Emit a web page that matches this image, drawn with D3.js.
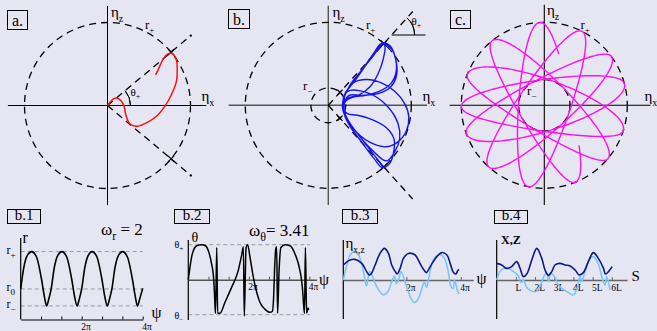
<!DOCTYPE html>
<html>
<head>
<meta charset="utf-8">
<script src="https://cdn.jsdelivr.net/npm/d3@7"></script>
<style>
  html, body { margin: 0; padding: 0; background: #e6e5f2; }
  svg { display: block; }
  text { font-family: "Liberation Serif", "Times New Roman", serif; fill: #000; }
</style>
</head>
<body>
<svg id="fig" width="657" height="331"></svg>
<script>
// ---------- data ----------
// (a) bounded orbit in the (eta_x, eta_z) plane, lengths in units of r+
const thetaPlusA = 40;                 // degrees
const orbitA = [[0,0],[0.04,0.05],[0.07,0.08],[0.11,0.09],[0.16,0.06],[0.2,-0.01],[0.22,-0.11],
  [0.26,-0.21],[0.3,-0.24],[0.36,-0.25],[0.47,-0.21],[0.59,-0.13],[0.69,-0.01],[0.77,0.13],
  [0.83,0.29],[0.84,0.43],[0.83,0.55],[0.79,0.62],[0.75,0.63],[0.7,0.6],[0.65,0.52],[0.61,0.43],[0.58,0.37]];

// (b) quasi-periodic orbit between r- and r+ inside the cone theta+
const thetaPlusB = 48;
const rMinusB = 0.21;
const orbitB = [
  [0.2,0.15],[0.3,0.27],[0.45,0.48],[0.58,0.66],[0.65,0.75],[0.74,0.72],[0.8,0.6],[0.82,0.42],
  [0.76,0.27],[0.62,0.17],[0.45,0.12],[0.3,0.1],[0.21,0.05],[0.18,-0.02],[0.19,-0.1],
  [0.26,-0.25],[0.4,-0.44],[0.55,-0.64],[0.65,-0.75],[0.74,-0.7],[0.79,-0.55],[0.79,-0.4],
  [0.7,-0.27],[0.52,-0.17],[0.35,-0.12],[0.23,-0.1],[0.18,-0.04],[0.18,0.06],[0.21,0.15],
  [0.3,0.27],[0.46,0.31],[0.64,0.27],[0.8,0.17],[0.92,0.02],[0.97,-0.14],[0.94,-0.31],[0.84,-0.44],
  [0.69,-0.5],[0.53,-0.46],[0.39,-0.37],[0.27,-0.25],[0.2,-0.13],[0.17,-0.02],[0.19,0.1],
  [0.28,0.26],[0.42,0.45],[0.55,0.63],[0.63,0.74],[0.68,0.72],[0.66,0.55],[0.6,0.38],[0.5,0.22],
  [0.36,0.12],[0.22,0.08],[0.18,0],[0.19,0.12],[0.26,0.18],[0.5,0.14],[0.72,-0.02],[0.84,-0.22],
  [0.86,-0.4],[0.8,-0.56],[0.7,-0.67],[0.54,-0.55],[0.36,-0.35],[0.24,-0.18],[0.19,-0.06],
  [0.19,0.08],[0.26,0.24],[0.4,0.42],[0.53,0.58],[0.62,0.7],[0.66,0.74],[0.76,0.68],[0.82,0.52],
  [0.82,0.35],[0.75,0.22],[0.6,0.14],[0.4,0.12],[0.25,0.12],[0.2,0.05],[0.19,-0.06],[0.22,-0.18],
  [0.32,-0.3],[0.46,-0.48],[0.6,-0.66],[0.66,-0.74]
];

// (c) rosette: successive apocentre directions (deg), inner turning radius r-
const rMinusC = 0.31;
const rosetteApses = [287, 93, 259, 63, 228, 36, 200, 15, 181, 342, 158, 320, 129, 292, 98];
const rosetteEnds = [0.7, 0.3];        // fraction of the first / last half-orbit drawn

// (b.1) r(psi), psi in units of pi
const omegaR = 2;
const rLevels = [["r","+",1],["r","0",0.45],["r","\u2212",0.2]];
const rPsi = [[0,0.45],[0.1,0.76],[0.2,0.93],[0.36,1],[0.52,0.92],[0.68,0.6],[0.78,0.33],[0.85,0.2],[0.92,0.3],
  [1,0.45],[1.1,0.76],[1.2,0.93],[1.35,1],[1.51,0.92],[1.67,0.6],[1.77,0.33],[1.85,0.2],[1.92,0.3],
  [2,0.45],[2.1,0.76],[2.2,0.93],[2.34,1],[2.5,0.92],[2.66,0.6],[2.76,0.33],[2.84,0.2],[2.91,0.3],
  [2.99,0.45],[3.09,0.76],[3.19,0.93],[3.34,1],[3.5,0.92],[3.66,0.6],[3.76,0.33],[3.83,0.2],[3.9,0.3],
  [4,0.46]];

// (b.2) theta(psi), theta in units of theta+
const omegaTheta = 3.41;
const thetaPsi = [[0,0],[0.055,0.35],[0.13,0.73],[0.28,0.97],[0.44,1],[0.57,0.97],[0.68,0.78],[0.77,0.45],
  [0.83,0.11],[0.86,-0.31],[0.88,-0.7],[0.9,-0.96],[0.94,0.92],[0.97,-0.96],[1.05,-0.96],[1.21,-0.65],
  [1.43,-0.22],[1.65,0.26],[1.76,0.69],[1.82,0.94],[1.85,-1.04],[1.91,0.92],[1.96,1],[2.04,0.64],
  [2.15,0.07],[2.26,-0.36],[2.37,-0.65],[2.53,-0.84],[2.7,-0.93],[2.78,-0.9],[2.82,-0.5],[2.85,0.26],
  [2.89,0.88],[2.92,0.94],[2.95,-0.96],[3,0.26],[3.06,0.92],[3.2,1],[3.36,0.97],[3.53,0.73],
  [3.69,0.26],[3.77,-0.22],[3.81,-0.7],[3.84,-0.96],[3.87,0.92],[3.91,-0.96],[3.96,-0.81],[3.98,-0.87]];

// (b.3) eta_x and eta_z against psi (units of pi)
const etaX = [[-0.32,0.75],[-0.07,1],[0.11,1.03],[0.36,0.83],[0.54,0.42],[0.63,0.25],[0.7,0.3],[0.85,0.75],
  [1.03,1.33],[1.19,1.58],[1.34,1.33],[1.46,0.75],[1.59,0.42],[1.66,0.3],[1.77,0.58],[1.89,1.08],
  [2.07,1.33],[2.32,1.25],[2.5,0.83],[2.66,0.47],[2.74,0.37],[2.84,0.58],[2.96,0.87],[3.12,1.17],
  [3.3,1.37],[3.49,1.25],[3.61,0.83],[3.73,0.37],[3.82,0.3],[3.89,0.47],[3.94,0.53]];
const etaZ = [[-0.32,0],[-0.19,0.75],[-0.07,1.25],[0.09,1.42],[0.24,1.25],[0.38,0.67],[0.48,0],[0.53,-0.3],
  [0.58,0],[0.65,0.42],[0.73,0.25],[0.85,-0.17],[1,-0.53],[1.15,-0.75],[1.32,-0.58],[1.46,-0.08],
  [1.56,0.2],[1.63,-0.17],[1.71,0],[1.8,0.42],[2.01,-0.33],[2.17,-0.92],[2.29,-1.13],[2.44,-0.92],
  [2.59,-0.33],[2.66,-0.08],[2.74,-0.37],[2.81,0],[2.93,0.75],[3.08,1.17],[3.24,1.28],[3.4,1.08],
  [3.54,0.42],[3.64,-0.33],[3.72,-0.42],[3.77,0],[3.89,-0.58],[3.94,-0.7]];

// (b.4) x and z against path length s (units of L)
const posX = [[0,0.83],[0.26,0.75],[0.52,0.58],[0.78,0.67],[1.04,0.92],[1.22,0.58],[1.39,0.17],[1.57,0.3],
  [1.83,1],[2.09,1.58],[2.35,1.08],[2.52,0.5],[2.7,0.23],[2.87,0.42],[3.04,0.75],[3.3,0.83],[3.57,0.75],
  [3.83,0.7],[4.09,0.5],[4.31,0.25],[4.52,0.37],[4.78,0.92],[5.04,1.37],[5.3,1.08],[5.57,0.58],
  [5.67,0.3],[5.83,0.42],[6.02,0.67]];
const posZ = [[0,0],[0.17,0.42],[0.38,0.58],[0.61,0.58],[0.87,0.42],[1.13,0.2],[1.27,-0.13],[1.39,0],
  [1.57,-0.37],[1.77,-0.53],[2.03,-0.58],[2.26,-0.3],[2.47,0.2],[2.61,0.37],[2.71,-0.08],[2.82,0.33],
  [2.99,0.2],[3.22,-0.25],[3.48,-0.47],[3.74,-0.63],[4,-0.75],[4.21,-0.37],[4.35,0.2],[4.43,-0.08],
  [4.61,0.42],[4.83,1.03],[5.04,1.17],[5.3,0.8],[5.53,0],[5.65,-0.25],[5.74,0.17],[5.91,-0.5]];

const psiTicks6 = [2/3, 4/3, 2, 8/3, 10/3, 4];
const psiLabels = {2: "2\u03c0", 4: "4\u03c0"};
const sTicks = [1, 2, 3, 4, 5, 6];

// ---------- drawing ----------
const svg = d3.select("#fig");
const R = 83;
const deg = Math.PI / 180;

function label(g, x, y, main, sub, size, subSize, extra) {
  const t = g.append("text").attr("x", x).attr("y", y).attr("font-size", size);
  t.append("tspan").text(main);
  if (sub) t.append("tspan").attr("dy", size * 0.3).attr("font-size", subSize).text(sub);
  if (extra) t.append("tspan").attr("dy", -size * 0.3).text(extra);
  return t;
}
function boxLabel(x, y, w, h, txt, size) {
  svg.append("rect").attr("x", x).attr("y", y).attr("width", w).attr("height", h)
    .attr("fill", "none").attr("stroke", "#000").attr("stroke-width", 1);
  svg.append("text").attr("x", x + w / 2).attr("y", y + h - 3.5).attr("text-anchor", "middle")
    .attr("font-size", size).text(txt);
}
function plane(cx, cy) {
  return {
    x: d3.scaleLinear().domain([-1, 1]).range([cx - R, cx + R]),
    y: d3.scaleLinear().domain([-1, 1]).range([cy + R, cy - R])
  };
}
function polar(r, a) { return [r * Math.cos(a * deg), r * Math.sin(a * deg)]; }
function cross(g, s, p, size) {
  const px = s.x(p[0]), py = s.y(p[1]);
  g.append("path").attr("d", `M${px - size},${py - size}L${px + size},${py + size}M${px - size},${py + size}L${px + size},${py - size}`)
    .attr("stroke", "#000").attr("stroke-width", 1.2);
}
function planeAxes(g, s, x0, x1, y0, y1, color, width) {
  g.append("line").attr("x1", s.x(x0)).attr("x2", s.x(x1)).attr("y1", s.y(0)).attr("y2", s.y(0))
    .attr("stroke", color).attr("stroke-width", width);
  g.append("line").attr("x1", s.x(0)).attr("x2", s.x(0)).attr("y1", s.y(y0)).attr("y2", s.y(y1))
    .attr("stroke", color).attr("stroke-width", width);
}
function dashedCircle(g, s, r) {
  g.append("circle").attr("cx", s.x(0)).attr("cy", s.y(0)).attr("r", s.x(r) - s.x(0))
    .attr("fill", "none").attr("stroke", "#000").attr("stroke-width", 1.3).attr("stroke-dasharray", "7,5");
}
function dashedRay(g, s, a, r0, r1) {
  const p0 = polar(r0, a), p1 = polar(r1, a);
  g.append("line").attr("x1", s.x(p0[0])).attr("y1", s.y(p0[1])).attr("x2", s.x(p1[0])).attr("y2", s.y(p1[1]))
    .attr("stroke", "#000").attr("stroke-width", 1.3).attr("stroke-dasharray", "7,5");
}

// ---- panel a ----
{
  const s = plane(107.5, 105.5);
  const g = svg.append("g");
  planeAxes(g, s, -1.2, 1.19, 1.2, -1.2, "#000", 1);
  dashedCircle(g, s, 1);
  [thetaPlusA, -thetaPlusA].forEach(a => {
    dashedRay(g, s, a, 0, 1.3);
    const e = polar(1.31, a);
    g.append("circle").attr("cx", s.x(e[0])).attr("cy", s.y(e[1])).attr("r", 1.2).attr("fill", "#000");
    cross(g, s, polar(1, a), 3);
  });
  const arc = d3.arc()({innerRadius: 23, outerRadius: 23, startAngle: Math.PI / 2 - thetaPlusA * deg, endAngle: Math.PI / 2});
  g.append("path").attr("d", arc).attr("transform", `translate(${s.x(0)},${s.y(0)})`)
    .attr("fill", "none").attr("stroke", "#000").attr("stroke-width", 1);
  g.append("path").datum(orbitA)
    .attr("d", d3.line().x(d => s.x(d[0])).y(d => s.y(d[1])).curve(d3.curveCatmullRom.alpha(0.5)))
    .attr("fill", "none").attr("stroke", "#ff1010").attr("stroke-width", 1.5);
  boxLabel(7.5, 10.5, 20, 19, "a.", 16);
  label(g, 111, 17, "\u03b7", "z", 15, 10);
  label(g, 145, 29, "r", "+", 13, 9);
  label(g, 130.5, 96, "\u03b8", "+", 11, 8);
  label(g, 201.5, 101, "\u03b7", "x", 15, 10);
}

// ---- panel b ----
{
  const s = plane(328.3, 105.3);
  const g = svg.append("g");
  planeAxes(g, s, -1.2, 1.19, 1.2, -1.2, "#555", 1.4);
  dashedCircle(g, s, 1);
  dashedCircle(g, s, rMinusB);
  [thetaPlusB, -thetaPlusB].forEach(a => {
    dashedRay(g, s, a, 0, 1.52);
    cross(g, s, polar(1, a), 3.2);
    cross(g, s, polar(rMinusB, a), 2.6);
  });
  // theta+ marker on the upper ray
  const yy = s.y.invert(35), px0 = yy / Math.tan(thetaPlusB * deg);
  g.append("line").attr("x1", s.x(px0)).attr("x2", s.x(px0) + 34).attr("y1", s.y(yy)).attr("y2", s.y(yy))
    .attr("stroke", "#000").attr("stroke-width", 1);
  const arc = d3.arc()({innerRadius: 23, outerRadius: 23, startAngle: Math.PI / 2 - thetaPlusB * deg, endAngle: Math.PI / 2});
  g.append("path").attr("d", arc).attr("transform", `translate(${s.x(px0)},${s.y(yy)})`)
    .attr("fill", "none").attr("stroke", "#000").attr("stroke-width", 1);
  g.append("path").datum(orbitB)
    .attr("d", d3.line().x(d => s.x(d[0])).y(d => s.y(d[1])).curve(d3.curveCatmullRom.alpha(0.5)))
    .attr("fill", "none").attr("stroke", "#1515f0").attr("stroke-width", 1.4);
  boxLabel(228.5, 9.5, 21, 19, "b.", 16);
  label(g, 332.5, 17, "\u03b7", "z", 15, 10);
  label(g, 366, 29, "r", "+", 13, 9);
  label(g, 411.5, 25, "\u03b8", "+", 11, 8);
  label(g, 422.5, 101, "\u03b7", "x", 15, 10);
  label(g, 303, 90, "r", "\u2212", 13, 9);
}

// ---- panel c ----
{
  const s = plane(544.3, 105.3);
  const g = svg.append("g");
  planeAxes(g, s, -1.14, 1.28, 1.21, -1.2, "#000", 1.1);
  dashedCircle(g, s, 1);
  dashedCircle(g, s, rMinusC);
  // trace each half-orbit between successive apocentres as a slowly turning ellipse
  const pts = [];
  const n = rosetteApses.length - 1, steps = 60;
  for (let i = 0; i < n; i++) {
    const a0 = rosetteApses[i];
    const span = (((rosetteApses[i + 1] - a0) % 360) + 360) % 360;
    const drift = span - 180;
    const f0 = i === 0 ? rosetteEnds[0] : 0, f1 = i === n - 1 ? rosetteEnds[1] : 1;
    for (let k = Math.round(f0 * steps); k <= Math.round(f1 * steps); k++) {
      const f = k / steps, t = Math.PI * f, ax = (a0 + drift * f) * deg;
      const c = Math.cos(t), sn = rMinusC * Math.sin(t);
      pts.push([c * Math.cos(ax) - sn * Math.sin(ax), c * Math.sin(ax) + sn * Math.cos(ax)]);
    }
  }
  g.append("path").datum(pts)
    .attr("d", d3.line().x(d => s.x(d[0])).y(d => s.y(d[1])).curve(d3.curveCatmullRom))
    .attr("fill", "none").attr("stroke", "#ff10ee").attr("stroke-width", 1.4);
  boxLabel(450.5, 10.5, 20, 18, "c.", 16);
  label(g, 547, 15, "\u03b7", "z", 15, 10);
  label(g, 580.5, 29, "r", "+", 13, 9);
  label(g, 527, 95, "r", "\u2212", 13, 9);
  label(g, 644.5, 101, "\u03b7", "x", 15, 10);
}

// ---- bottom row helpers ----
function psiAxis(g, x, y0, ticks, fmt, color, width) {
  const ax = d3.axisBottom(x).tickValues(ticks).tickFormat(fmt)
    .tickSizeInner(-3).tickSizeOuter(0).tickPadding(4);
  const sel = g.append("g").attr("transform", `translate(0,${y0})`).call(ax);
  sel.select(".domain").attr("stroke", color).attr("stroke-width", width);
  sel.selectAll(".tick line").attr("stroke", color).attr("stroke-width", 1);
  sel.selectAll(".tick text").attr("font-family", "Liberation Serif, serif").attr("font-size", 9.5)
    .attr("fill", "#000").attr("text-anchor", "start").attr("dx", -1);
}
function yAxisLine(g, x0, yTop, yBot) {
  g.append("line").attr("x1", x0).attr("x2", x0).attr("y1", yTop).attr("y2", yBot)
    .attr("stroke", "#000").attr("stroke-width", 1.2);
}
function curve(g, data, x, y, color, width, cv) {
  g.append("path").datum(data)
    .attr("d", d3.line().x(d => x(d[0])).y(d => y(d[1])).curve(cv))
    .attr("fill", "none").attr("stroke", color).attr("stroke-width", width).attr("stroke-linejoin", "round");
}

// ---- b.1 ----
{
  const g = svg.append("g");
  const x = d3.scaleLinear().domain([0, 4]).range([20.7, 142.7]);
  const y = d3.scaleLinear().domain([0, 1.2]).range([319.5, 238]);
  rLevels.forEach(l => {
    g.append("line").attr("x1", x(0)).attr("x2", x(4)).attr("y1", y(l[2])).attr("y2", y(l[2]))
      .attr("stroke", "#9a9a9a").attr("stroke-width", 1).attr("stroke-dasharray", "4,3");
    label(g, 6.5, y(l[2]) + 2.5, l[0], l[1], 12, 9);
  });
  yAxisLine(g, x(0), 238, y(0));
  psiAxis(g, x, y(0), psiTicks6, d => psiLabels[Math.round(d * 3) / 3] || "", "#000", 1.1);
  curve(g, rPsi, x, y, "#000", 1.6, d3.curveMonotoneX);
  boxLabel(7.5, 209.5, 33, 14, "b.1", 15);
  label(g, 22.5, 243, "r", null, 16);
  label(g, 151.5, 318, "\u03c8", null, 16);
  label(g, 101, 235, "\u03c9", "r", 17, 12, " = " + omegaR);
}

// ---- b.2 ----
{
  const g = svg.append("g");
  const x = d3.scaleLinear().domain([0, 4.24]).range([188.3, 316.6]);
  const y = d3.scaleLinear().domain([-1, 1]).range([314.7, 244.7]);
  [1, -1].forEach(v => {
    g.append("line").attr("x1", x(0)).attr("x2", 310).attr("y1", y(v)).attr("y2", y(v))
      .attr("stroke", "#9a9a9a").attr("stroke-width", 1).attr("stroke-dasharray", "4,3");
  });
  label(g, 174.5, 248, "\u03b8", "+", 10, 7);
  label(g, 174.5, 318.5, "\u03b8", "\u2212", 10, 7);
  yAxisLine(g, x(0), 240, 320);
  psiAxis(g, x, y(0), psiTicks6, d => psiLabels[Math.round(d * 3) / 3] || "", "#555", 1.5);
  curve(g, thetaPsi, x, y, "#000", 1.5, d3.curveMonotoneX);
  boxLabel(174.5, 209.5, 35, 14, "b.2", 15);
  label(g, 191.5, 242, "\u03b8", null, 14);
  label(g, 319, 285, "\u03c8", null, 16);
  label(g, 249, 236, "\u03c9", "\u03b8", 17, 12, "= " + omegaTheta);
}

// ---- b.3 ----
{
  const g = svg.append("g");
  const x = d3.scaleLinear().domain([-0.32, 4.46]).range([343.3, 473.3]);
  const y = d3.scaleLinear().domain([0, 1]).range([280, 260]);
  yAxisLine(g, 343.3, 240, 319);
  psiAxis(g, x, y(0), [2, 4], d => psiLabels[d], "#666", 1.5);
  curve(g, etaZ, x, y, "#7cc6f6", 1.6, d3.curveCatmullRom);
  curve(g, etaX, x, y, "#0b1a86", 1.6, d3.curveCatmullRom);
  boxLabel(342.5, 209.5, 35, 14, "b.3", 15);
  label(g, 345.5, 248, "\u03b7", "x,z", 15, 9.5);
  label(g, 476.5, 284, "\u03c8", null, 16);
}

// ---- b.4 ----
{
  const g = svg.append("g");
  const x = d3.scaleLinear().domain([0, 6.8]).range([496.7, 627.1]);
  const y = d3.scaleLinear().domain([0, 1]).range([280, 260]);
  yAxisLine(g, 496.7, 240, 319);
  psiAxis(g, x, y(0), sTicks, d => (d === 1 ? "" : d) + "L", "#666", 1.5);
  curve(g, posZ, x, y, "#7cc6f6", 1.6, d3.curveCatmullRom);
  curve(g, posX, x, y, "#0b1a86", 1.6, d3.curveCatmullRom);
  boxLabel(494.5, 210.5, 33, 13, "b.4", 15);
  svg.append("text").attr("x", 501).attr("y", 243.5).attr("font-size", 12).attr("font-weight", "bold").text("X,Z");
  label(g, 631.5, 281, "S", null, 15);
}
</script>
</body>
</html>
